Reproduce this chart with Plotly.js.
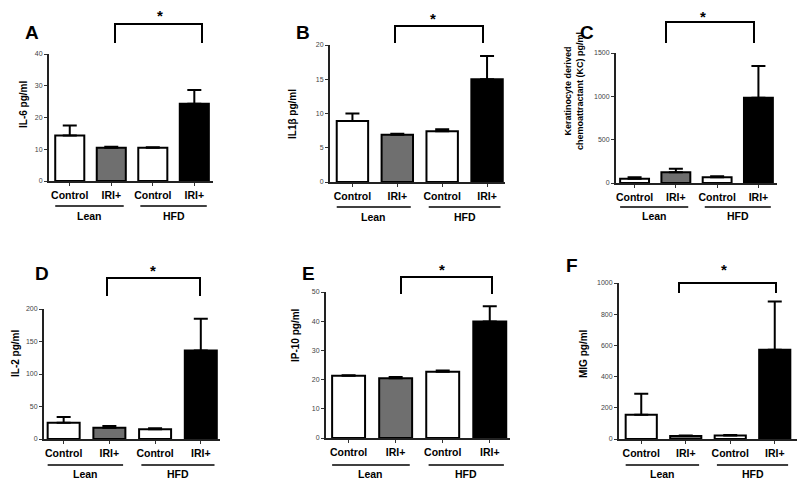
<!DOCTYPE html>
<html><head><meta charset="utf-8">
<script src="https://cdn.plot.ly/plotly-3.0.1.min.js"></script>
<style>html,body{margin:0;padding:0;background:#fff}#chart{width:800px;height:485px}</style>
</head><body><div id="chart"></div>
<script>
// ---- data ----
const categories = ['Control', 'IRI+', 'Control', 'IRI+'];
const groups = ['Lean', 'HFD'];
const panelLetters = ['A', 'B', 'C', 'D', 'E', 'F'];
const yTitles = ['IL-6 pg/ml', 'IL1\u03b2 pg/ml', 'Keratinocyte derived<br>chemoattractant (KC) pg/ml', 'IL-2 pg/ml', 'IP-10 pg/ml', 'MIG pg/ml'];
const il6 = [14.3, 10.5, 10.5, 24.3];
const il6Err = [3.2, 0.3, 0.1, 4.4];
const il1b = [8.9, 6.9, 7.4, 15.0];
const il1bErr = [1.1, 0.15, 0.3, 3.4];
const kc = [50, 125, 65, 985];
const kcErr = [15, 40, 12, 365];
const il2 = [25, 17.5, 15, 136];
const il2Err = [9, 2.5, 1.5, 49];
const ip10 = [21.3, 20.5, 22.7, 39.9];
const ip10Err = [0.2, 0.4, 0.4, 5.2];
const mig = [156, 20, 22, 572];
const migErr = [134, 2, 3, 310];
const yTicks = [[0,10,20,30,40],[0,5,10,15,20],[0,500,1000,1500],[0,50,100,150,200],[0,10,20,30,40,50],[0,200,400,600,800,1000]];

const values = [il6, il1b, kc, il2, ip10, mig];
const errors = [il6Err, il1bErr, kcErr, il2Err, ip10Err, migErr];
const barColors = ['#ffffff', '#6f6f6f', '#ffffff', '#000000'];

// ---- layout geometry (pixels) ----
const W = 800, H = 485;
const px = x => x / W, py = y => 1 - y / H;
const geo = [
  {x0:49, x1:213, yt:54, yb:181, xr:[-0.5,3.45], ymax:40, letter:[32,33], star:[160,16], br:[115,202,24,43], yt_x:23, yt_y:105, ts:10, gl:206, gt:216},
  {x0:330, x1:505, yt:45, yb:182, xr:[-0.5,3.4], ymax:20, letter:[303,33], star:[433,19], br:[395,483,26,43], yt_x:292, yt_y:114, ts:10, gl:207, gt:217},
  {x0:616, x1:777, yt:53, yb:183, xr:[-0.45,3.45], ymax:1500, letter:[587,33], star:[703,17], br:[666,754,22,43], yt_x:574, yt_y:91, ts:9, gl:207, gt:216},
  {x0:44, x1:220, yt:309, yb:439, xr:[-0.43,3.42], ymax:200, letter:[42,273], star:[153,270], br:[107,200,278,296], yt_x:15, yt_y:354, ts:10, gl:465, gt:474},
  {x0:326, x1:510, yt:292, yb:438, xr:[-0.48,3.43], ymax:50, letter:[308,273], star:[442,269], br:[401,492,277,294], yt_x:295, yt_y:335, ts:10, gl:465, gt:474},
  {x0:619, x1:797, yt:283, yb:439, xr:[-0.5,3.5], ymax:1000, letter:[572,265], star:[724,269], br:[679,776,283,293], yt_x:583, yt_y:354, ts:10, gl:465, gt:474}
];

const FONT = 'Liberation Sans, Arial, sans-serif';
const traces = [], shapes = [], annotations = [];
const layout = {
  width: W, height: H, margin: {l:0, r:0, t:0, b:0},
  paper_bgcolor: '#fff', plot_bgcolor: 'rgba(0,0,0,0)',
  showlegend: false,
  font: {family: FONT, color: '#000'}
};
const ann = (o) => Object.assign({showarrow: false, xanchor: 'center', yanchor: 'middle'}, o);

geo.forEach((g, i) => {
  const n = i + 1;
  const xa = 'xaxis' + (n === 1 ? '' : n), ya = 'yaxis' + (n === 1 ? '' : n);
  const xr = 'x' + (n === 1 ? '' : n), yr = 'y' + (n === 1 ? '' : n);
  traces.push({
    type: 'bar', x: [0,1,2,3], y: values[i], xaxis: xr, yaxis: yr,
    width: 0.7,
    marker: {color: barColors, line: {color: '#000', width: 2}},
    error_y: {type: 'data', symmetric: false, array: errors[i], arrayminus: [0,0,0,0],
              color: '#000', thickness: 2, width: 7},
    hoverinfo: 'y'
  });
  layout[xa] = {
    domain: [px(g.x0), px(g.x1)], range: g.xr, anchor: yr,
    showline: true, linecolor: '#222', linewidth: 2, showgrid: false, zeroline: false,
    ticks: 'outside', ticklen: 3, tickcolor: '#333', tickwidth: 1,
    tickvals: [0,1,2,3], ticktext: categories,
    tickfont: {family: FONT, size: 10.5, color: '#000', weight: 'bold'}
  };
  layout[ya] = {
    domain: [py(g.yb), py(g.yt)], range: [0, g.ymax], anchor: xr,
    showline: true, linecolor: '#222', linewidth: 2, showgrid: false, zeroline: false,
    ticks: 'outside', ticklen: 3, tickcolor: '#333', tickwidth: 1,
    tickvals: yTicks[i], tickfont: {family: FONT, size: 7, color: '#444'}
  };
  // group underlines & labels
  const lines = [[-0.35, 1.3], [1.7, 3.3]];
  lines.forEach((l, k) => {
    shapes.push({type: 'line', xref: xr, yref: 'paper', x0: l[0], x1: l[1], y0: py(g.gl), y1: py(g.gl),
                 line: {color: '#000', width: 1.5}});
    annotations.push(ann({xref: xr, yref: 'paper', x: (l[0] + l[1]) / 2, y: py(g.gt), text: groups[k],
                      font: {family: FONT, size: 10.5, weight: 'bold'}}));
  });
  // significance bracket
  const b = g.br;
  shapes.push({type: 'path', xref: 'paper', yref: 'paper',
               path: `M ${px(b[0])} ${py(b[3])} L ${px(b[0])} ${py(b[2])} L ${px(b[1])} ${py(b[2])} L ${px(b[1])} ${py(b[3])}`,
               line: {color: '#000', width: 2}});
  annotations.push(ann({xref: 'paper', yref: 'paper', x: px(g.star[0]), y: py(g.star[1]), text: '*',
                    font: {family: FONT, size: 15, weight: 'bold'}}));
  // panel letter
  annotations.push(ann({xref: 'paper', yref: 'paper', x: px(g.letter[0]), y: py(g.letter[1]), text: panelLetters[i],
                    font: {family: FONT, size: 19, weight: 'bold'}}));
  // y title
  annotations.push(ann({xref: 'paper', yref: 'paper', x: px(g.yt_x), y: py(g.yt_y), text: yTitles[i],
                    textangle: -90, font: {family: FONT, size: g.ts, weight: 'bold'}}));
});
layout.shapes = shapes;
layout.annotations = annotations;
Plotly.newPlot('chart', traces, layout, {displayModeBar: false, staticPlot: true});
</script>
</body></html>
